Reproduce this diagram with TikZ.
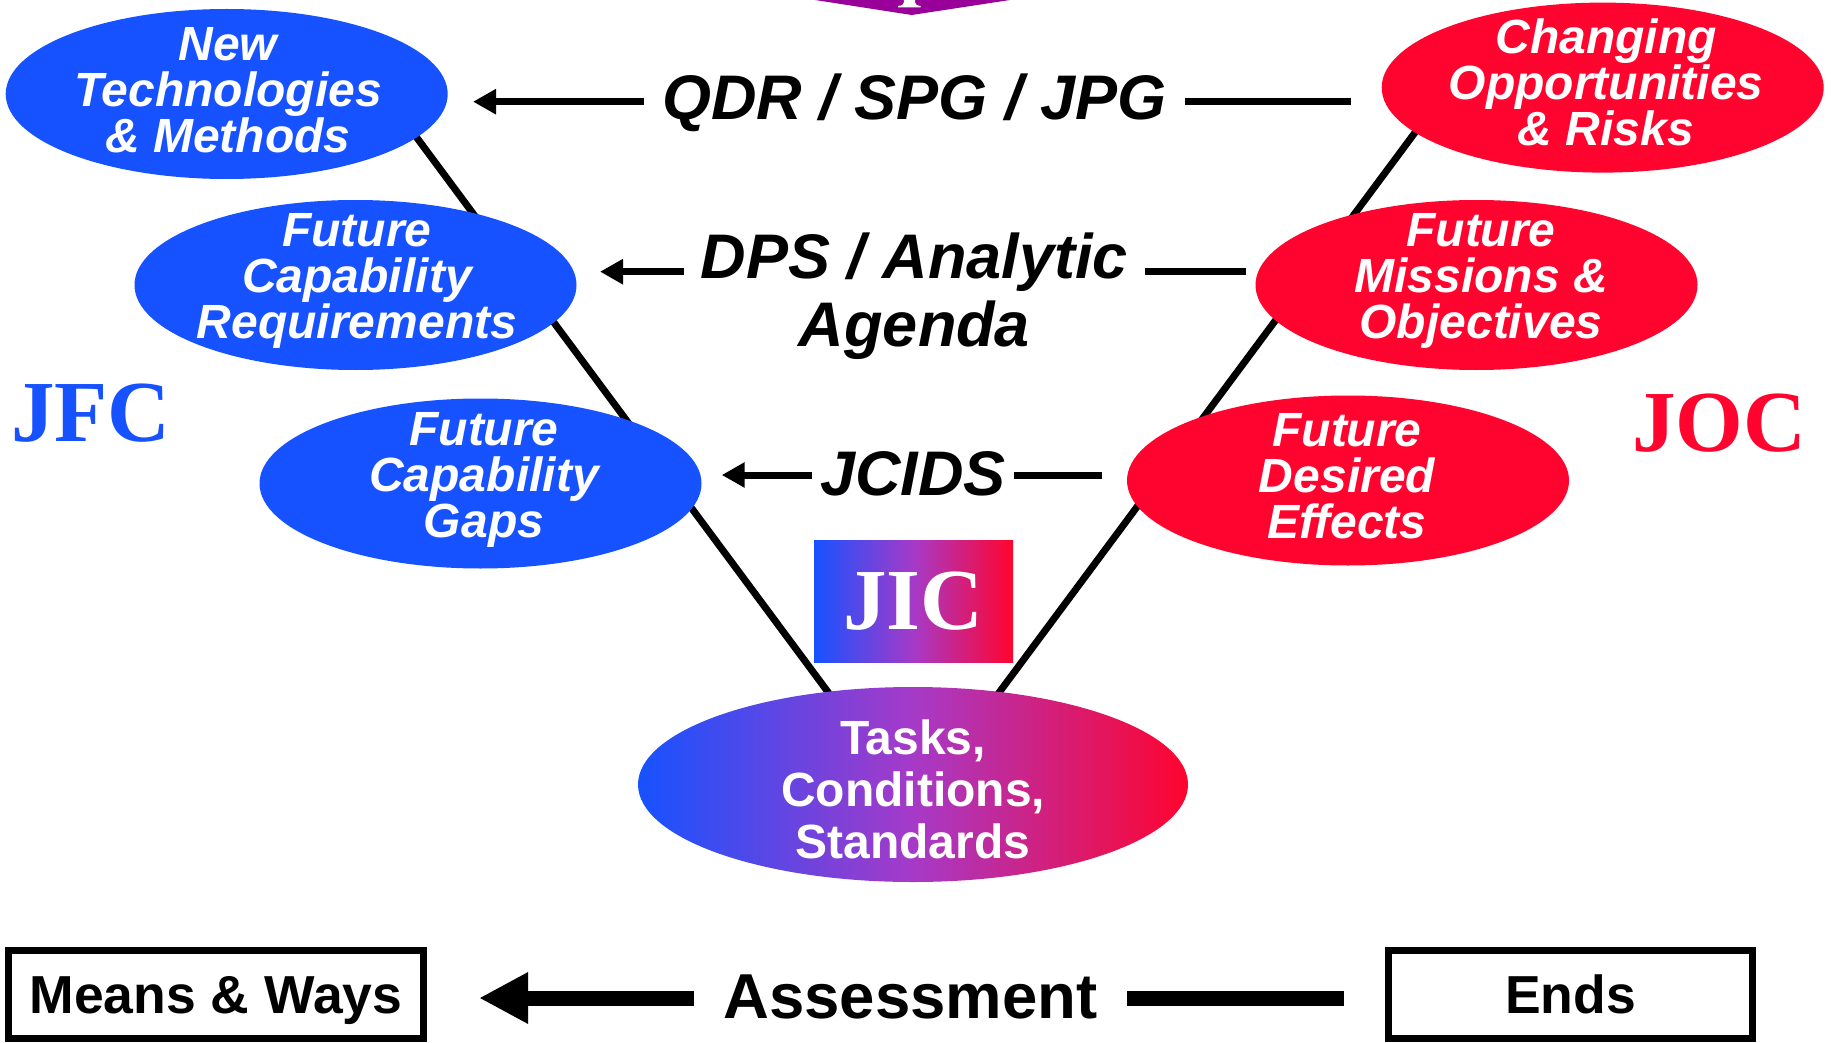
\documentclass[tikz,border=0pt]{standalone}
\usepackage{fontspec}
\setmainfont{Liberation Sans}
\newfontfamily\timesfam{Liberation Serif}
\usetikzlibrary{arrows.meta,shapes.geometric}
\definecolor{vblue}{RGB}{22,82,255}
\definecolor{vred}{RGB}{255,4,46}
\definecolor{vmid}{RGB}{166,58,200}
\definecolor{toppurple}{RGB}{153,0,153}
\tikzset{
  ell/.style={ellipse, minimum width=442, minimum height=170, inner sep=0pt},
  blueell/.style={ell, fill=vblue},
  redell/.style={ell, fill=vred},
  elltext/.style={text=white, align=center, inner sep=0pt, font=\fontsize{48}{46}\selectfont\bfseries\itshape},
  tcstext/.style={text=white, align=center, inner sep=0pt, font=\fontsize{48}{52}\selectfont\bfseries},
  flowtext/.style={anchor=base, inner ysep=0pt, font=\fontsize{63}{69}\selectfont\bfseries\itshape},
  bigtext/.style={anchor=base, inner ysep=0pt, font=\fontsize{63.5}{69}\selectfont\bfseries},
  vline/.style={line width=7pt},
  flowline/.style={line width=7pt},
  flowarrow/.style={line width=7pt, -{Triangle[length=23pt,width=24pt]}},
  bigline/.style={line width=15pt},
  bigarrow/.style={line width=15pt, -{Triangle[length=49pt,width=48pt]}},
  labelbox/.style={draw, line width=7pt, minimum height=88, inner sep=0pt, text height=38, text depth=0pt, font=\fontsize{53.5}{53.5}\selectfont\bfseries},
  doctrine/.style={inner sep=0pt, font=\fontsize{87}{87}\selectfont\timesfam\bfseries},
  gradfill/.style={left color=vblue, right color=vred, middle color=vmid},
}
\begin{document}
\begin{tikzpicture}[x=1pt,y=-1pt]
\useasboundingbox (0,0) rectangle (1831,1043);
\fill[white] (0,0) rectangle (1831,1043);

% top purple shape (cut off)
\fill[toppurple] (815,0) -- (911.7,15) -- (1010,0) -- cycle;
\fill[white] (898,7.3) -- (920.7,7.3) -- (920.7,6) .. controls (916,5.6) and (915,4) .. (915,0) -- (904,0) .. controls (904,4) and (903,5.6) .. (898,6) -- cycle;

% V lines
\coordinate (vl1) at (400,115);
\coordinate (vl2) at (848.7,720);
\coordinate (vr1) at (1428,115);
\coordinate (vr2) at (978.7,720);
\draw[vline] (vl1) -- (vl2);
\draw[vline] (vr1) -- (vr2);

% left ellipses
\node[blueell] (b1) at (226.7,94) {};
\node[elltext] (b1t) at (228,90) {New\\Technologies\\\& Methods};
\node[blueell] (b2) at (355.5,285) {};
\node[elltext] (b2t) at (357,281) {Future\\Capability\\Requirements};
\node[blueell] (b3) at (480.5,483.5) {};
\node[elltext] (b3t) at (484,480) {Future\\Capability\\Gaps};

% right ellipses
\node[redell] (r1) at (1602.7,87.6) {};
\node[elltext] (r1t) at (1606,82) {Changing\\Opportunities\\\& Risks};
\node[redell] (r2) at (1476.5,285) {};
\node[elltext] (r2t) at (1481,281) {Future\\Missions \&\\Objectives};
\node[redell] (r3) at (1348,480.5) {};
\node[elltext] (r3t) at (1347,476) {Future\\Desired\\Effects};

% bottom gradient ellipse
\node[ellipse, minimum width=550, minimum height=195, inner sep=0pt, gradfill] (tcs) at (913,784.5) {};
\node[tcstext] (tcst) at (913,789) {Tasks,\\Conditions,\\Standards};

% JIC box
\node[gradfill, minimum width=199, minimum height=122, inner sep=0pt, text height=57, text depth=0pt, text=white, font=\fontsize{87}{87}\selectfont\timesfam\bfseries] (jic) at (913.5,601) {JIC};

% JFC / JOC
\node[doctrine, anchor=base, text=vblue] (jfc) at (91,441.7) {JFC};
\node[doctrine, anchor=base, text=vred] (joc) at (1719,451.7) {JOC};

% flow rows
\node[flowtext, inner xsep=18] (qdr) at (914.5,120) {QDR / SPG / JPG};
\coordinate (qdrtip) at (473,101.7);
\coordinate (qdrend) at (1351,101.7);
\draw[flowarrow] (qdr.west |- qdrtip) -- (qdrtip);
\draw[flowline] (qdrend) -- (qdr.east |- qdrend);

\node[flowtext, inner xsep=17] (dps) at (914.5,278) {DPS / Analytic};
\node[flowtext] (agenda) at (914.5,346) {Agenda};
\coordinate (dpstip) at (600,271.7);
\coordinate (dpsend) at (1246,271.7);
\draw[flowarrow] (dps.west |- dpstip) -- (dpstip);
\draw[flowline] (dpsend) -- (dps.east |- dpsend);

\node[flowtext, inner xsep=8] (jcids) at (913,495) {JCIDS};
\coordinate (jcidstip) at (721.7,475);
\coordinate (jcidsend) at (1101.7,475);
\draw[flowarrow] (jcids.west |- jcidstip) -- (jcidstip);
\draw[flowline] (jcidsend) -- (jcids.east |- jcidsend);

% bottom row
\node[labelbox, minimum width=415] (means) at (216,994.5) {Means \& Ways};
\node[labelbox, minimum width=364] (ends) at (1570.5,994.5) {Ends};
\node[bigtext, inner xsep=29] (assess) at (910.5,1018) {Assessment};
\coordinate (assesstip) at (479,998);
\coordinate (assessend) at (1344,998);
\draw[bigarrow] (assess.west |- assesstip) -- (assesstip);
\draw[bigline] (assessend) -- (assess.east |- assessend);
\end{tikzpicture}
\end{document}
